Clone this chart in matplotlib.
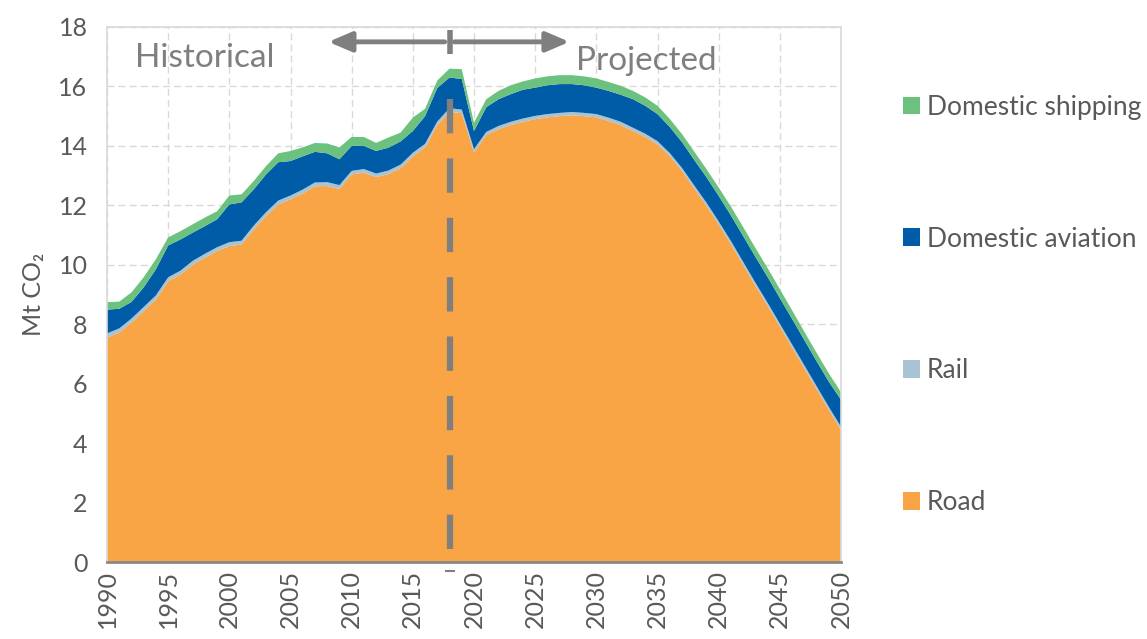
import matplotlib
matplotlib.use("Agg")
from matplotlib import pyplot as plt
import numpy as np

years = list(range(1990, 2051))

# Mt CO2 per sector
road = [7.55, 7.72, 8.05, 8.44, 8.83, 9.45, 9.67, 10.00, 10.24, 10.46,
        10.63, 10.68, 11.19, 11.64, 12.03, 12.20, 12.40, 12.64, 12.65, 12.55,
        13.04, 13.10, 12.95, 13.05, 13.25, 13.65, 13.95, 14.70, 15.15, 15.10,
        13.78, 14.36, 14.56, 14.70, 14.81, 14.90, 14.96, 15.00, 15.03, 15.00,
        14.96, 14.84, 14.70, 14.50, 14.30, 14.05, 13.66, 13.16, 12.57, 11.99,
        11.36, 10.70, 10.00, 9.30, 8.62, 7.92, 7.22, 6.52, 5.82, 5.12,
        4.45]
rail = [0.14, 0.14, 0.14, 0.14, 0.14, 0.13, 0.13, 0.13, 0.13, 0.13,
        0.13, 0.13, 0.13, 0.13, 0.13, 0.13, 0.13, 0.13, 0.13, 0.13,
        0.12, 0.12, 0.12, 0.12, 0.12, 0.12, 0.12, 0.12, 0.12, 0.12,
        0.11, 0.11, 0.11, 0.11, 0.11, 0.11, 0.11, 0.11, 0.11, 0.11,
        0.11, 0.11, 0.11, 0.11, 0.11, 0.11, 0.10, 0.10, 0.10, 0.10,
        0.10, 0.10, 0.10, 0.10, 0.10, 0.10, 0.10, 0.10, 0.10, 0.10,
        0.10]
aviation = [0.80, 0.66, 0.56, 0.66, 0.88, 1.07, 1.05, 0.95, 0.93, 0.94,
            1.27, 1.29, 1.22, 1.27, 1.29, 1.16, 1.12, 1.03, 0.97, 0.87,
            0.84, 0.78, 0.76, 0.77, 0.78, 0.73, 0.93, 1.13, 1.03, 1.03,
            0.61, 0.83, 0.90, 0.93, 0.97, 0.95, 0.97, 0.97, 0.94, 0.93,
            0.89, 0.90, 0.91, 0.96, 0.94, 0.91, 0.88, 0.87, 0.86, 0.86,
            0.86, 0.86, 0.87, 0.87, 0.87, 0.86, 0.86, 0.85, 0.84, 0.85,
            0.91]
shipping = [0.25, 0.24, 0.32, 0.34, 0.34, 0.27, 0.28, 0.28, 0.29, 0.27,
            0.30, 0.27, 0.28, 0.28, 0.30, 0.34, 0.30, 0.30, 0.33, 0.40,
            0.30, 0.30, 0.27, 0.34, 0.30, 0.45, 0.25, 0.25, 0.30, 0.33,
            0.28, 0.27, 0.28, 0.30, 0.28, 0.31, 0.30, 0.30, 0.30, 0.30,
            0.31, 0.30, 0.30, 0.28, 0.28, 0.28, 0.27, 0.27, 0.28, 0.27,
            0.28, 0.30, 0.30, 0.30, 0.30, 0.30, 0.29, 0.28, 0.28, 0.28,
            0.25]

labels = ["Road", "Rail", "Domestic aviation", "Domestic shipping"]
colors = ["#F9A546", "#A7C3D4", "#005CA7", "#6CC17E"]

split_year = 2018
xticks = list(range(1990, 2051, 5))
yticks = list(range(0, 19, 2))

plt.rcParams['font.family'] = ['Lato', 'DejaVu Sans']

fig = plt.figure(figsize=(11.47, 6.39), dpi=100)
ax = fig.add_axes([107 / 1147, 77 / 639, 734 / 1147, 535 / 639])

ax.stackplot(years, road, rail, aviation, shipping, colors=colors,
             labels=labels, linewidth=0, zorder=2)

ax.set_xlim(1990, 2050)
ax.set_ylim(0, 18)
ax.set_xticks(xticks)
ax.set_yticks(yticks)
ax.tick_params(axis='x', rotation=90, length=0, pad=6, labelsize=18, labelcolor="#595959")
ax.tick_params(axis='y', length=0, pad=14, labelsize=18, labelcolor="#595959")
ax.grid(True, color="#D9D9D9", linestyle=(0, (5, 3)), linewidth=1, zorder=0)
for s in ["top", "right", "left"]:
    ax.spines[s].set_color("#D9D9D9")
    ax.spines[s].set_linewidth(1.2)
ax.spines["bottom"].set_color("#898989")
ax.spines["bottom"].set_linewidth(2)
ax.spines["bottom"].set_zorder(5)

ax.set_ylabel("Mt CO₂", fontsize=18, color="#595959", labelpad=10)

# split between historical and projected
ax.vlines(split_year, 0.45, 16.4, colors="#7F7F7F", linewidth=4.5,
          linestyles=(0, (5.5, 4)), zorder=4)
ax.vlines(split_year, 17.1, 17.9, colors="#7F7F7F", linewidth=4, zorder=4)
ax.annotate("", xy=(2008.1, 17.5), xytext=(2017.6, 17.5),
            arrowprops=dict(arrowstyle="-|>,head_length=1.4,head_width=0.6",
                            color="#7F7F7F", lw=3.5, shrinkA=0, shrinkB=0))
ax.annotate("", xy=(2027.8, 17.5), xytext=(2018.4, 17.5),
            arrowprops=dict(arrowstyle="-|>,head_length=1.4,head_width=0.6",
                            color="#7F7F7F", lw=3.5, shrinkA=0, shrinkB=0))
ax.text(1992.3, 16.95, "Historical", fontsize=24, color="#7F7F7F", va="center")
ax.text(2028.3, 16.85, "Projected", fontsize=24, color="#7F7F7F", va="center")
ax.plot([split_year], [-0.3], marker="_", markersize=7, color="#7F7F7F",
        markeredgewidth=1.5, clip_on=False)

handles, labs = ax.get_legend_handles_labels()
leg = fig.legend(handles[::-1], labs[::-1], loc="upper left",
                 bbox_to_anchor=(879 / 1147, 1 - 71 / 639), frameon=False,
                 fontsize=19, labelspacing=4.05, handlelength=0.66,
                 handleheight=0.66, handletextpad=0.25, labelcolor="#595959")

fig.savefig("out.png", dpi=100)
